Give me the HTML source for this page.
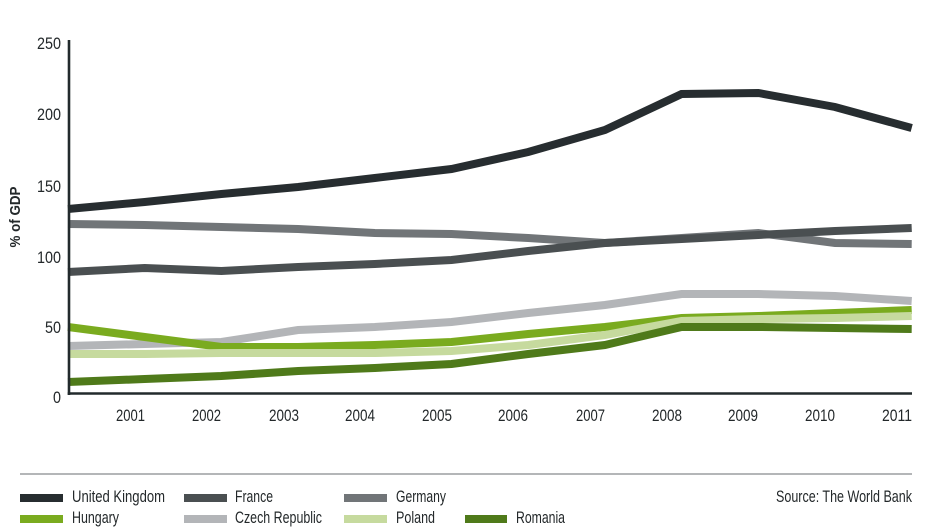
<!DOCTYPE html>
<html><head><meta charset="utf-8"><style>
html,body{margin:0;padding:0;background:#fff;}
svg{display:block;}
text{font-family:"Liberation Sans Narrow","Liberation Sans",sans-serif;fill:#23282a;}
</style></head><body>
<svg width="940" height="532" viewBox="0 0 940 532" xmlns="http://www.w3.org/2000/svg">
<g font-size="16.5" text-anchor="end">
<text x="61" y="49" textLength="24" lengthAdjust="spacingAndGlyphs">250</text>
<text x="61" y="120" textLength="24" lengthAdjust="spacingAndGlyphs">200</text>
<text x="61" y="192" textLength="24" lengthAdjust="spacingAndGlyphs">150</text>
<text x="61" y="263" textLength="24" lengthAdjust="spacingAndGlyphs">100</text>
<text x="61" y="333" textLength="16" lengthAdjust="spacingAndGlyphs">50</text>
<text x="61" y="403" textLength="8" lengthAdjust="spacingAndGlyphs">0</text>
</g>
<text transform="translate(20,217) rotate(-90)" text-anchor="middle" font-size="15" font-weight="bold" textLength="61" lengthAdjust="spacingAndGlyphs">% of GDP</text>
<g font-size="17" text-anchor="end">
<text x="145" y="421" textLength="29" lengthAdjust="spacingAndGlyphs">2001</text>
<text x="221" y="421" textLength="29" lengthAdjust="spacingAndGlyphs">2002</text>
<text x="299" y="421" textLength="30" lengthAdjust="spacingAndGlyphs">2003</text>
<text x="375" y="421" textLength="30" lengthAdjust="spacingAndGlyphs">2004</text>
<text x="452" y="421" textLength="30" lengthAdjust="spacingAndGlyphs">2005</text>
<text x="528" y="421" textLength="30" lengthAdjust="spacingAndGlyphs">2006</text>
<text x="605" y="421" textLength="29" lengthAdjust="spacingAndGlyphs">2007</text>
<text x="682" y="421" textLength="30" lengthAdjust="spacingAndGlyphs">2008</text>
<text x="758" y="421" textLength="30" lengthAdjust="spacingAndGlyphs">2009</text>
<text x="835" y="421" textLength="30" lengthAdjust="spacingAndGlyphs">2010</text>
<text x="912" y="421" textLength="30" lengthAdjust="spacingAndGlyphs">2011</text>
</g>
<g fill="none" stroke-width="8" stroke-linejoin="miter" stroke-linecap="butt">
<polyline stroke="#717578" points="68,224 144.7,225 221.4,227 298.1,229 374.8,233 451.5,234 528.2,238 604.9,243 681.6,238 758.3,233 835,243 911.7,244"/>
<polyline stroke="#4a4f51" points="68,272 144.7,268 221.4,271 298.1,267 374.8,264 451.5,260 528.2,251 604.9,243 681.6,239 758.3,235 835,231 911.7,228"/>
<polyline stroke="#272d30" points="68,209 144.7,202 221.4,194 298.1,187 374.8,178 451.5,169 528.2,152 604.9,130 681.6,94 758.3,93 835,107 911.7,128"/>
<polyline stroke="#b3b5b8" points="68,346 144.7,344 221.4,342 298.1,330 374.8,327 451.5,322 528.2,313 604.9,305 681.6,294 758.3,294 835,296 911.7,301"/>
<polyline stroke="#7aab1f" points="68,327 144.7,337 221.4,347 298.1,347 374.8,345 451.5,342 528.2,334 604.9,327 681.6,318 758.3,316 835,313 911.7,310"/>
<polyline stroke="#c6da9e" points="68,354 144.7,354 221.4,353 298.1,353 374.8,353 451.5,351 528.2,345 604.9,335 681.6,321 758.3,319 835,318 911.7,316"/>
<polyline stroke="#4f7a1a" points="68,382 144.7,379 221.4,376 298.1,371 374.8,368 451.5,364 528.2,354 604.9,345 681.6,327 758.3,327 835,328 911.7,329"/>
</g>
<line x1="69" y1="40" x2="69" y2="395" stroke="#222a2c" stroke-width="2.6"/>
<line x1="67.7" y1="393.5" x2="912" y2="393.5" stroke="#222a2c" stroke-width="2.6"/>
<line x1="20" y1="474" x2="912" y2="474" stroke="#b4b6b8" stroke-width="2"/>
<g>
<rect x="20" y="494" width="43" height="8" fill="#272d30"/>
<rect x="184" y="494" width="43" height="8" fill="#4a4f51"/>
<rect x="344" y="494" width="43" height="8" fill="#717578"/>
<rect x="20" y="515" width="43" height="8" fill="#7aab1f"/>
<rect x="184" y="515" width="43" height="8" fill="#b3b5b8"/>
<rect x="344" y="515" width="43" height="8" fill="#c6da9e"/>
<rect x="465" y="515" width="42" height="8" fill="#4f7a1a"/>
</g>
<g font-size="17">
<text x="72" y="502" textLength="93" lengthAdjust="spacingAndGlyphs">United Kingdom</text>
<text x="235" y="502" textLength="38" lengthAdjust="spacingAndGlyphs">France</text>
<text x="396" y="502" textLength="50" lengthAdjust="spacingAndGlyphs">Germany</text>
<text x="72" y="523" textLength="47" lengthAdjust="spacingAndGlyphs">Hungary</text>
<text x="235" y="523" textLength="87" lengthAdjust="spacingAndGlyphs">Czech Republic</text>
<text x="396" y="523" textLength="39" lengthAdjust="spacingAndGlyphs">Poland</text>
<text x="516" y="523" textLength="49" lengthAdjust="spacingAndGlyphs">Romania</text>
<text x="776" y="502" textLength="136" lengthAdjust="spacingAndGlyphs">Source: The World Bank</text>
</g>
</svg>
</body></html>
